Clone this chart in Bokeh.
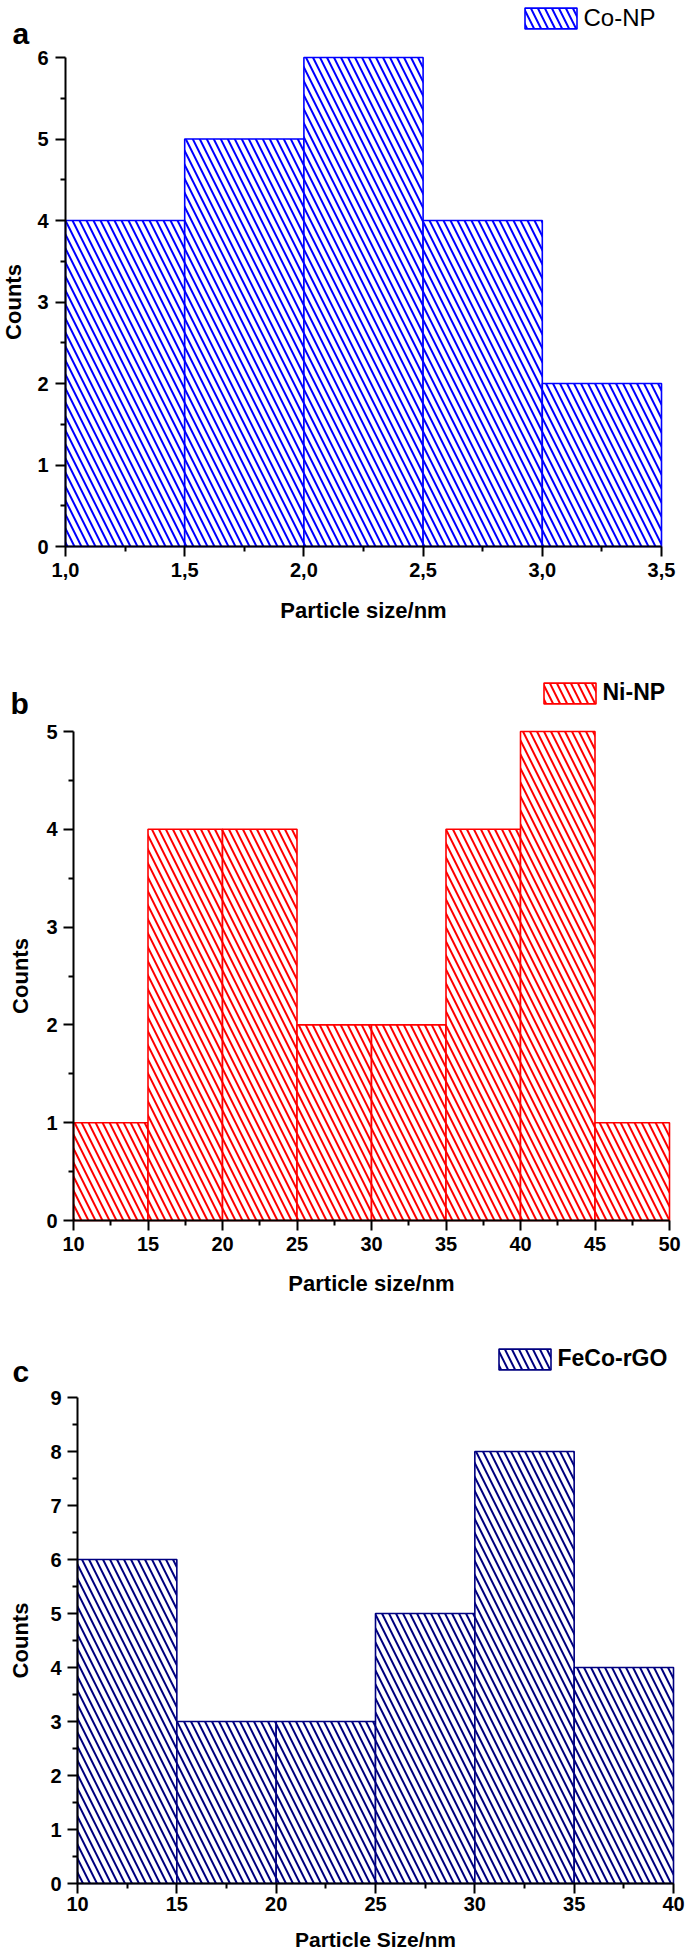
from bokeh.plotting import figure
from bokeh.layouts import column
from bokeh.models import Range1d, FixedTicker, Label, Legend, LegendItem
from bokeh.embed import file_html
from bokeh.resources import INLINE

# ---------------- data ----------------
# panel a : Co-NP
a_edges = [1.0, 1.5, 2.0, 2.5, 3.0, 3.5]
a_counts = [4, 5, 6, 4, 2]
a_xticks = [1.0, 1.5, 2.0, 2.5, 3.0, 3.5]
a_xlabels = ["1,0", "1,5", "2,0", "2,5", "3,0", "3,5"]
a_yticks = [0, 1, 2, 3, 4, 5, 6]

# panel b : Ni-NP
b_edges = [10, 15, 20, 25, 30, 35, 40, 45, 50]
b_counts = [1, 4, 4, 2, 2, 4, 5, 1]
b_xticks = [10, 15, 20, 25, 30, 35, 40, 45, 50]
b_xlabels = ["10", "15", "20", "25", "30", "35", "40", "45", "50"]
b_yticks = [0, 1, 2, 3, 4, 5]

# panel c : FeCo-rGO
c_edges = [10, 15, 20, 25, 30, 35, 40]
c_counts = [6, 3, 3, 5, 8, 4]
c_xticks = [10, 15, 20, 25, 30, 35, 40]
c_xlabels = ["10", "15", "20", "25", "30", "35", "40"]
c_yticks = [0, 1, 2, 3, 4, 5, 6, 7, 8, 9]

FONT = "Liberation Sans"
W = 685


def make(edges, counts, xt, xl, yt, color, leg, leg_bold, leg_size, letter,
         xtitle, H, fl, fr, ft, fb, box_l, box_t, let_x, let_base,
         xs1, xs2, ys1, ys2, title_size="22px"):
    """fl/fr/ft/fb: where the axes must sit (canvas px). The frame covers the
    whole canvas and both axes are pinned, so nothing is clipped."""
    x0, x1 = edges[0], edges[-1]
    ymax = yt[-1]
    ppx = (fr - fl) / (x1 - x0)
    ppy = (fb - ft) / ymax
    xs, xe = x0 - fl / ppx, x1 + (W - fr) / ppx
    ys, ye = -(H - fb) / ppy, fb / ppy

    p = figure(width=W, height=H, output_backend="svg", toolbar_location=None,
               x_range=Range1d(xs, xe), y_range=Range1d(ys, ye),
               min_border_left=0, min_border_right=0,
               min_border_top=0, min_border_bottom=0)
    p.outline_line_color = None
    p.grid.visible = False
    p.background_fill_color = "white"
    p.border_fill_color = "white"

    r = p.quad(left=edges[:-1], right=edges[1:], top=counts, bottom=0,
               fill_color="white", line_color=color, line_width=1.6,
               hatch_pattern="\\", hatch_color=color, hatch_scale=14,
               hatch_weight=2.0)

    xminor = [(a + b) / 2 for a, b in zip(xt[:-1], xt[1:])]
    yminor = [v + 0.5 for v in yt[:-1]]
    p.xaxis.ticker = FixedTicker(ticks=xt, minor_ticks=xminor)
    p.yaxis.ticker = FixedTicker(ticks=yt, minor_ticks=yminor)
    p.xaxis.major_label_overrides = {t: s for t, s in zip(xt, xl)}
    p.xaxis.bounds = (x0, x1)
    p.yaxis.bounds = (0, ymax)
    p.xaxis.fixed_location = 0
    p.yaxis.fixed_location = x0

    for ax in (p.xaxis[0], p.yaxis[0]):
        ax.axis_line_width = 2
        ax.axis_line_color = "black"
        ax.major_tick_line_width = 2
        ax.minor_tick_line_width = 2
        ax.major_tick_out = 10
        ax.major_tick_in = 0
        ax.minor_tick_out = 5
        ax.minor_tick_in = 0
        ax.major_label_text_font = FONT
        ax.major_label_text_font_style = "bold"
        ax.major_label_text_font_size = "20px"
        ax.major_label_text_color = "black"
        ax.axis_label_text_font = FONT
        ax.axis_label_text_font_style = "bold"
        ax.axis_label_text_color = "black"

    p.xaxis.axis_label = xtitle
    p.xaxis.axis_label_text_font_size = title_size
    p.yaxis.axis_label = "Counts"
    p.yaxis.axis_label_text_font_size = "22px"
    p.xaxis.major_label_standoff = xs1
    p.xaxis.axis_label_standoff = xs2
    p.yaxis.major_label_standoff = ys1
    p.yaxis.axis_label_standoff = ys2

    # legend (visible box = inner 80% of the glyph area)
    gw, gh = 65, 26
    leg_left = box_l - 6.5
    leg_bottom = box_t - 2.6 + gh
    legend = Legend(items=[LegendItem(label=leg, renderers=[r])],
                    location=(leg_left, H - leg_bottom),
                    glyph_width=gw, glyph_height=gh, padding=0, margin=0,
                    border_line_color=None, background_fill_alpha=0,
                    label_standoff=1, label_height=gh,
                    label_text_font=FONT, label_text_font_size=leg_size,
                    label_text_font_style="bold" if leg_bold else "normal",
                    label_text_color="black")
    p.add_layout(legend)

    # panel letter
    xd = xs + let_x / ppx
    yd = (fb - let_base) / ppy
    p.add_layout(Label(x=xd, y=yd, text=letter, text_font=FONT,
                       text_font_style="bold", text_font_size="30px",
                       text_align="left", text_baseline="alphabetic",
                       text_color="black"))
    return p


pa = make(a_edges, a_counts, a_xticks, a_xlabels, a_yticks, "#0000FF",
          "Co-NP", False, "24px", "a", "Particle size/nm",
          H=660, fl=65, fr=661, ft=57, fb=546, box_l=524, box_t=9,
          let_x=12, let_base=33, xs1=6, xs2=18, ys1=7, ys2=8)

pb = make(b_edges, b_counts, b_xticks, b_xlabels, b_yticks, "#FF0000",
          "Ni-NP", True, "23px", "b", "Particle size/nm",
          H=660, fl=73, fr=669, ft=71, fb=560, box_l=543, box_t=23,
          let_x=10, let_base=43, xs1=6, xs2=17, ys1=6, ys2=10)

pc = make(c_edges, c_counts, c_xticks, c_xlabels, c_yticks, "#000080",
          "FeCo-rGO", True, "23px", "c", "Particle Size/nm",
          H=639, fl=77, fr=673, ft=77, fb=563, box_l=498, box_t=29,
          let_x=12, let_base=51, xs1=3, xs2=14, ys1=6, ys2=14,
          title_size="21px")

layout = column(pa, pb, pc, spacing=0)
open("out.html", "w").write(file_html(layout, INLINE))
